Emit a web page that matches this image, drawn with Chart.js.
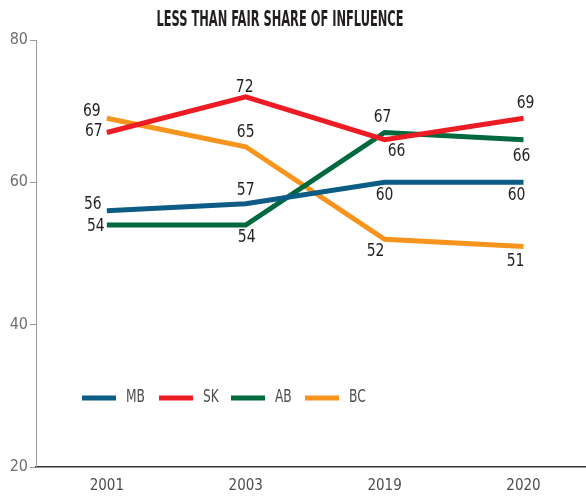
<!DOCTYPE html>
<html>
<head>
<meta charset="utf-8">
<script src="https://cdn.jsdelivr.net/npm/chart.js@4"></script>
<style>
html,body{margin:0;padding:0;background:#fff;}
#wrap{width:586px;height:496px;position:relative;}
</style>
</head>
<body>
<div id="wrap"><canvas id="c" width="586" height="496"></canvas></div>
<script>
const years = ['2001', '2003', '2019', '2020'];
const mb = [56, 57, 60, 60];
const sk = [67, 72, 66, 69];
const ab = [54, 54, 67, 66];
const bc = [69, 65, 52, 51];
const yTicks = [20, 40, 60, 80];
const titleText = 'LESS THAN FAIR SHARE OF INFLUENCE';

const FONT = "'DejaVu Sans Condensed', 'Liberation Sans Narrow', sans-serif";

// label offsets [dx, dy] per dataset point (styling only)
const labelOffsets = [
  [[-14, -6], [0, -13], [0, 13], [-7, 13]],
  [[-13, -1], [-1, -10], [12, 12], [2, -15]],
  [[-11, 1], [1, 12], [-2, -15], [-2, 17]],
  [[-15, -7], [0, -14], [-9, 12], [-8, 15]]
];

function pts(arr) { return arr.map((v, i) => ({x: i, y: v})); }

const series = [
  {label: 'MB', data: mb, color: '#0d5c86'},
  {label: 'SK', data: sk, color: '#ed1c24'},
  {label: 'AB', data: ab, color: '#00693e'},
  {label: 'BC', data: bc, color: '#f7941d'}
];

const labelsPlugin = {
  id: 'labelsPlugin',
  afterDatasetsDraw(chart) {
    const ctx = chart.ctx;
    ctx.save();
    ctx.font = '18px ' + FONT;
    ctx.fillStyle = '#231f20';
    ctx.textAlign = 'center';
    ctx.textBaseline = 'middle';
    chart.data.datasets.forEach((ds, di) => {
      const meta = chart.getDatasetMeta(di);
      meta.data.forEach((p, i) => {
        const off = labelOffsets[di][i];
        ctx.save();
        ctx.translate(p.x + off[0], p.y + off[1]);
        ctx.scale(0.86, 1);
        ctx.fillText(String(ds.data[i].y), 0, 0);
        ctx.restore();
      });
    });
    ctx.restore();
  },
  afterDraw(chart) {
    const ctx = chart.ctx;
    ctx.save();
    // title
    ctx.font = 'bold 21px ' + FONT;
    ctx.fillStyle = '#231f20';
    ctx.textAlign = 'center';
    ctx.textBaseline = 'middle';
    const w = ctx.measureText(titleText).width;
    const target = 247;
    ctx.translate(280, 21);
    ctx.scale(target / w, 1);
    ctx.fillText(titleText, 0, 0);
    ctx.restore();

    // legend
    ctx.save();
    const legendX = [82, 159, 231, 305];
    const ly = chart.scales.y.getPixelForValue(29.7);
    ctx.font = '17px ' + FONT;
    ctx.textBaseline = 'middle';
    ctx.textAlign = 'left';
    chart.data.datasets.forEach((ds, di) => {
      const x0 = legendX[di];
      ctx.strokeStyle = ds.borderColor;
      ctx.lineWidth = 5;
      ctx.beginPath();
      ctx.moveTo(x0, ly);
      ctx.lineTo(x0 + 34, ly);
      ctx.stroke();
      ctx.fillStyle = '#4d4d4f';
      ctx.save();
      ctx.translate(x0 + 44, ly);
      ctx.scale(0.8, 1);
      ctx.fillText(ds.label, 0, 0);
      ctx.restore();
    });
    ctx.restore();
  }
};

new Chart(document.getElementById('c'), {
  type: 'line',
  data: {
    datasets: series.map(s => ({
      label: s.label,
      data: pts(s.data),
      borderColor: s.color,
      backgroundColor: s.color,
      borderWidth: 5,
      pointRadius: 0,
      pointHoverRadius: 0,
      tension: 0,
      borderJoinStyle: 'miter',
      borderCapStyle: 'butt'
    }))
  },
  options: {
    responsive: false,
    animation: false,
    events: [],
    layout: {padding: {top: 40, right: 0, left: 0, bottom: 0}},
    plugins: {legend: {display: false}, title: {display: false}, tooltip: {enabled: false}},
    scales: {
      x: {
        type: 'linear',
        min: -0.51,
        max: 3.45,
        afterBuildTicks(scale) { scale.ticks = years.map((y, i) => ({value: i})); },
        afterFit(scale) { scale.height = 29; },
        ticks: {
          callback: (v) => years[v],
          color: '#4d4d4f',
          font: {family: FONT, size: 15},
          padding: 10,
          maxRotation: 0,
          autoSkip: false
        },
        grid: {display: false, drawTicks: false},
        border: {display: true, color: '#333333', width: 1.5}
      },
      y: {
        min: 20,
        max: 80,
        afterBuildTicks(scale) { scale.ticks = yTicks.map(v => ({value: v})); },
        afterFit(scale) { scale.width = 36; },
        ticks: {
          color: '#6d6e71',
          font: {family: FONT, size: 16},
          padding: 2
        },
        grid: {display: true, drawOnChartArea: false, drawTicks: true, tickLength: 6, color: '#9a9a9a', lineWidth: 1},
        border: {display: true, color: '#9a9a9a', width: 1}
      }
    }
  },
  plugins: [labelsPlugin]
});
</script>
</body>
</html>
